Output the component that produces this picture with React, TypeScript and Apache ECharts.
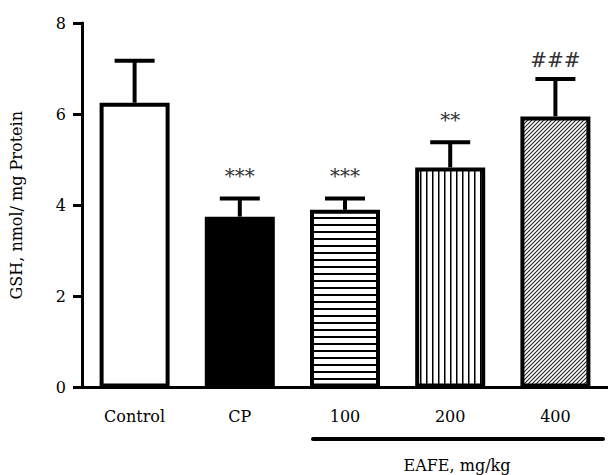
import React, { useEffect, useRef } from "react";
import * as echarts from "echarts";

const categories = ["Control", "CP", "100", "200", "400"];
const means = [6.25, 3.75, 3.9, 4.83, 5.95];
const sems = [0.92, 0.4, 0.25, 0.55, 0.82];
const marks = ["", "***", "***", "**", "###"];
const yTicks = [0, 2, 4, 6, 8];
const yTitle = "GSH, nmol/ mg Protein";
const groupTitle = "EAFE, mg/kg";

const FONT = "DejaVu Serif";

function makePattern(kind: string) {
  const c = document.createElement("canvas");
  let w = 8, h = 8;
  if (kind === "h") { w = 8; h = 7; }
  if (kind === "v") { w = 6; h = 8; }
  if (kind === "d") { w = 8; h = 8; }
  c.width = w; c.height = h;
  const ctx = c.getContext("2d")!;
  ctx.fillStyle = "#fff";
  ctx.fillRect(0, 0, w, h);
  ctx.fillStyle = "#000";
  ctx.strokeStyle = "#222";
  if (kind === "h") ctx.fillRect(0, 0, w, 2);
  if (kind === "v") ctx.fillRect(0, 0, 1.5, h);
  if (kind === "d") {
    ctx.lineWidth = 1.1;
    ctx.beginPath();
    for (let k = 0; k <= 16; k += 4) {
      ctx.moveTo(k - 10, 10);
      ctx.lineTo(k + 2, -2);
    }
    ctx.stroke();
  }
  return { image: c, repeat: "repeat", imageWidth: w, imageHeight: h } as any;
}

export default function App() {
  const ref = useRef<HTMLDivElement>(null);
  useEffect(() => {
    if (!ref.current) return;
    const chart = echarts.init(ref.current, null, { renderer: "svg" });
    const fills: any[] = ["#fff", "#000", makePattern("h"), makePattern("v"), makePattern("d")];
    chart.setOption({
      animation: false,
      backgroundColor: "#fff",
      grid: { left: 79, top: 23, width: 531, height: 364.5, containLabel: false },
      xAxis: {
        type: "category",
        data: categories,
        axisLine: { lineStyle: { color: "#000", width: 3 } },
        axisTick: { alignWithLabel: true, length: 5, lineStyle: { color: "#000", width: 2.5 } },
        axisLabel: { color: "#000", fontFamily: FONT, fontSize: 16, margin: 21 },
      },
      yAxis: {
        type: "value",
        min: 0,
        max: 8,
        interval: 2,
        name: yTitle,
        nameLocation: "middle",
        nameGap: 58,
        nameTextStyle: { color: "#000", fontFamily: FONT, fontSize: 16 },
        axisLine: { show: true, lineStyle: { color: "#000", width: 3 } },
        axisTick: { show: true, length: 9, lineStyle: { color: "#000", width: 3 } },
        axisLabel: {
          color: "#000", fontFamily: FONT, fontSize: 16, margin: 16,
          formatter: (v: number) => (yTicks.includes(v) ? String(v) : ""),
        },
        splitLine: { show: false },
      },
      series: [
        {
          type: "bar",
          barWidth: 70,
          data: means.map((m, i) => ({
            value: m,
            itemStyle: { color: fills[i], borderColor: "#000", borderWidth: 4 },
          })),
        },
        {
          type: "custom",
          data: means.map((m, i) => [i, m, sems[i]]),
          renderItem: (params: any, api: any) => {
            const i = api.value(0);
            const m = api.value(1);
            const e = api.value(2);
            const base = api.coord([i, m]);
            const top = api.coord([i, m + e]);
            const half = 20;
            const label = marks[params.dataIndex];
            const isHash = label.indexOf("#") >= 0;
            return {
              type: "group",
              children: [
                { type: "line", shape: { x1: base[0], y1: base[1], x2: top[0], y2: top[1] }, style: { stroke: "#000", lineWidth: 4 } },
                { type: "line", shape: { x1: top[0] - half, y1: top[1], x2: top[0] + half, y2: top[1] }, style: { stroke: "#000", lineWidth: 4 } },
                {
                  type: "text",
                  x: top[0],
                  y: top[1] - (isHash ? 19 : 22),
                  style: {
                    text: label,
                    fill: "#333",
                    fontFamily: FONT,
                    fontSize: 20,
                    align: "center",
                    verticalAlign: "middle",
                  },
                },
              ],
            };
          },
          z: 3,
        },
      ],
      graphic: [
        { type: "line", shape: { x1: 313, y1: 439, x2: 603, y2: 439 }, style: { stroke: "#000", lineWidth: 4, lineCap: "round" } },
        { type: "text", x: 457, y: 465, style: { text: groupTitle, fill: "#000", fontFamily: FONT, fontSize: 16, align: "center", verticalAlign: "middle" } },
      ],
    });
    return () => chart.dispose();
  }, []);
  return <div ref={ref} style={{ position: "fixed", left: 0, top: 0, width: 608, height: 475 }} />;
}
